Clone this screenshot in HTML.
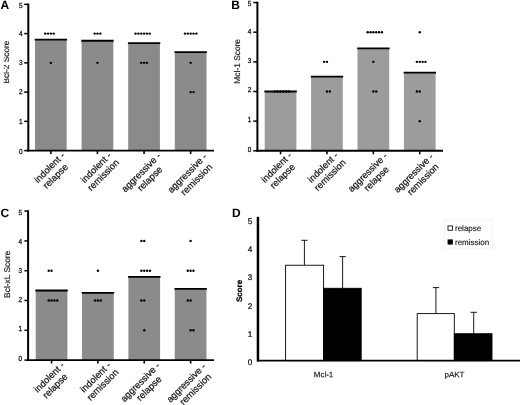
<!DOCTYPE html><html><head><meta charset="utf-8"><title>Figure</title>
<style>html,body{margin:0;padding:0;background:#fff;}svg{display:block;will-change:transform;font-family:"Liberation Sans", sans-serif;}</style></head><body>
<svg width="520" height="405" viewBox="0 0 520 405" text-rendering="geometricPrecision" font-family='"Liberation Sans", sans-serif'>
<defs><clipPath id="clipA"><rect x="3.8" y="0" width="30" height="200"/></clipPath></defs>
<rect width="520" height="405" fill="#fff"/>
<rect x="35.00" y="39.60" width="31.70" height="111.00" fill="#8a8a8a"/>
<rect x="81.60" y="40.77" width="31.70" height="109.83" fill="#8a8a8a"/>
<rect x="128.20" y="43.11" width="31.70" height="107.49" fill="#8a8a8a"/>
<rect x="174.80" y="52.03" width="31.70" height="98.57" fill="#8a8a8a"/>
<circle cx="45.15" cy="33.60" r="1.2" fill="#000"/>
<circle cx="48.00" cy="33.60" r="1.2" fill="#000"/>
<circle cx="50.85" cy="33.60" r="1.2" fill="#000"/>
<circle cx="53.70" cy="33.60" r="1.2" fill="#000"/>
<circle cx="50.85" cy="62.85" r="1.2" fill="#000"/>
<circle cx="94.60" cy="33.60" r="1.2" fill="#000"/>
<circle cx="97.45" cy="33.60" r="1.2" fill="#000"/>
<circle cx="100.30" cy="33.60" r="1.2" fill="#000"/>
<circle cx="97.45" cy="62.85" r="1.2" fill="#000"/>
<circle cx="135.50" cy="33.60" r="1.2" fill="#000"/>
<circle cx="138.35" cy="33.60" r="1.2" fill="#000"/>
<circle cx="141.20" cy="33.60" r="1.2" fill="#000"/>
<circle cx="144.05" cy="33.60" r="1.2" fill="#000"/>
<circle cx="146.90" cy="33.60" r="1.2" fill="#000"/>
<circle cx="149.75" cy="33.60" r="1.2" fill="#000"/>
<circle cx="141.20" cy="62.85" r="1.2" fill="#000"/>
<circle cx="144.05" cy="62.85" r="1.2" fill="#000"/>
<circle cx="146.90" cy="62.85" r="1.2" fill="#000"/>
<circle cx="184.95" cy="33.60" r="1.2" fill="#000"/>
<circle cx="187.80" cy="33.60" r="1.2" fill="#000"/>
<circle cx="190.65" cy="33.60" r="1.2" fill="#000"/>
<circle cx="193.50" cy="33.60" r="1.2" fill="#000"/>
<circle cx="196.35" cy="33.60" r="1.2" fill="#000"/>
<circle cx="190.65" cy="62.85" r="1.2" fill="#000"/>
<circle cx="190.65" cy="92.10" r="1.2" fill="#000"/>
<circle cx="193.50" cy="92.10" r="1.2" fill="#000"/>
<line x1="34.70" y1="39.60" x2="67.10" y2="39.60" stroke="#000" stroke-width="1.8"/>
<line x1="81.30" y1="40.77" x2="113.70" y2="40.77" stroke="#000" stroke-width="1.8"/>
<line x1="127.90" y1="43.11" x2="160.30" y2="43.11" stroke="#000" stroke-width="1.8"/>
<line x1="174.50" y1="52.03" x2="206.90" y2="52.03" stroke="#000" stroke-width="1.8"/>
<line x1="28.3" y1="3.55" x2="28.3" y2="151.50" stroke="#000" stroke-width="2.0"/>
<line x1="27.3" y1="150.60" x2="214" y2="150.60" stroke="#000" stroke-width="1.9"/>
<line x1="24.20" y1="150.60" x2="28.3" y2="150.60" stroke="#000" stroke-width="1.5"/>
<text transform="translate(22.50,153.50) scale(0.88,1)" font-size="7.3" text-anchor="end" fill="#111" stroke="#111" stroke-width="0.28">0</text>
<line x1="24.20" y1="121.35" x2="28.3" y2="121.35" stroke="#000" stroke-width="1.5"/>
<text transform="translate(22.50,123.80) scale(0.88,1)" font-size="7.3" text-anchor="end" fill="#111" stroke="#111" stroke-width="0.28">1</text>
<line x1="24.20" y1="92.10" x2="28.3" y2="92.10" stroke="#000" stroke-width="1.5"/>
<text transform="translate(22.50,94.30) scale(0.88,1)" font-size="7.3" text-anchor="end" fill="#111" stroke="#111" stroke-width="0.28">2</text>
<line x1="24.20" y1="62.85" x2="28.3" y2="62.85" stroke="#000" stroke-width="1.5"/>
<text transform="translate(22.50,64.80) scale(0.88,1)" font-size="7.3" text-anchor="end" fill="#111" stroke="#111" stroke-width="0.28">3</text>
<line x1="24.20" y1="33.60" x2="28.3" y2="33.60" stroke="#000" stroke-width="1.5"/>
<text transform="translate(22.50,36.00) scale(0.88,1)" font-size="7.3" text-anchor="end" fill="#111" stroke="#111" stroke-width="0.28">4</text>
<line x1="24.20" y1="4.35" x2="28.3" y2="4.35" stroke="#000" stroke-width="1.5"/>
<text transform="translate(22.50,7.50) scale(0.88,1)" font-size="7.3" text-anchor="end" fill="#111" stroke="#111" stroke-width="0.28">5</text>
<line x1="50.85" y1="150.60" x2="50.85" y2="154.10" stroke="#000" stroke-width="1.6"/>
<g transform="translate(65.35,156.10) rotate(-45)" font-size="9.4" fill="#111" stroke="#111" stroke-width="0.22" text-anchor="end"><text x="0" y="0">indolent -</text><text x="-21.2" y="10.4" text-anchor="middle">relapse</text></g>
<line x1="97.45" y1="150.60" x2="97.45" y2="154.10" stroke="#000" stroke-width="1.6"/>
<g transform="translate(111.95,156.10) rotate(-45)" font-size="9.4" fill="#111" stroke="#111" stroke-width="0.22" text-anchor="end"><text x="0" y="0">indolent -</text><text x="-19.6" y="10.4" text-anchor="middle">remission</text></g>
<line x1="144.05" y1="150.60" x2="144.05" y2="154.10" stroke="#000" stroke-width="1.6"/>
<g transform="translate(161.35,156.60) rotate(-45)" font-size="9.4" fill="#111" stroke="#111" stroke-width="0.22" text-anchor="end"><text x="0" y="0">aggressive -</text><text x="-23.8" y="10.6" text-anchor="middle">relapse</text></g>
<line x1="190.65" y1="150.60" x2="190.65" y2="154.10" stroke="#000" stroke-width="1.6"/>
<g transform="translate(207.55,157.30) rotate(-45)" font-size="9.4" fill="#111" stroke="#111" stroke-width="0.22" text-anchor="end"><text x="0" y="0">aggressive -</text><text x="-23.5" y="11.0" text-anchor="middle">remission</text></g>
<text x="0.6" y="8.5" font-size="12" font-weight="bold" fill="#000">A</text>
<g clip-path="url(#clipA)"><text transform="translate(8.6,62) rotate(-90)" font-size="8.3" text-anchor="middle" fill="#1a1a1a" stroke="#1a1a1a" stroke-width="0.18">Bcl-2 Score</text></g>
<rect x="264.70" y="91.50" width="31.70" height="59.30" fill="#9c9c9c"/>
<rect x="311.10" y="76.68" width="31.70" height="74.12" fill="#9c9c9c"/>
<rect x="357.50" y="48.30" width="31.70" height="102.50" fill="#9c9c9c"/>
<rect x="403.90" y="72.70" width="31.70" height="78.10" fill="#9c9c9c"/>
<circle cx="274.85" cy="91.50" r="1.2" fill="#000"/>
<circle cx="277.70" cy="91.50" r="1.2" fill="#000"/>
<circle cx="280.55" cy="91.50" r="1.2" fill="#000"/>
<circle cx="283.40" cy="91.50" r="1.2" fill="#000"/>
<circle cx="286.25" cy="91.50" r="1.2" fill="#000"/>
<circle cx="289.10" cy="91.50" r="1.2" fill="#000"/>
<circle cx="324.10" cy="61.85" r="1.2" fill="#000"/>
<circle cx="326.95" cy="61.85" r="1.2" fill="#000"/>
<circle cx="326.95" cy="91.50" r="1.2" fill="#000"/>
<circle cx="329.80" cy="91.50" r="1.2" fill="#000"/>
<circle cx="367.65" cy="32.20" r="1.2" fill="#000"/>
<circle cx="370.50" cy="32.20" r="1.2" fill="#000"/>
<circle cx="373.35" cy="32.20" r="1.2" fill="#000"/>
<circle cx="376.20" cy="32.20" r="1.2" fill="#000"/>
<circle cx="379.05" cy="32.20" r="1.2" fill="#000"/>
<circle cx="381.90" cy="32.20" r="1.2" fill="#000"/>
<circle cx="373.35" cy="61.85" r="1.2" fill="#000"/>
<circle cx="373.35" cy="91.50" r="1.2" fill="#000"/>
<circle cx="376.20" cy="91.50" r="1.2" fill="#000"/>
<circle cx="419.75" cy="32.20" r="1.2" fill="#000"/>
<circle cx="416.90" cy="61.85" r="1.2" fill="#000"/>
<circle cx="419.75" cy="61.85" r="1.2" fill="#000"/>
<circle cx="422.60" cy="61.85" r="1.2" fill="#000"/>
<circle cx="425.45" cy="61.85" r="1.2" fill="#000"/>
<circle cx="416.90" cy="91.50" r="1.2" fill="#000"/>
<circle cx="419.75" cy="91.50" r="1.2" fill="#000"/>
<circle cx="419.75" cy="121.15" r="1.2" fill="#000"/>
<line x1="264.40" y1="91.50" x2="296.80" y2="91.50" stroke="#000" stroke-width="1.8"/>
<line x1="310.80" y1="76.68" x2="343.20" y2="76.68" stroke="#000" stroke-width="1.8"/>
<line x1="357.20" y1="48.30" x2="389.60" y2="48.30" stroke="#000" stroke-width="1.8"/>
<line x1="403.60" y1="72.70" x2="436.00" y2="72.70" stroke="#000" stroke-width="1.8"/>
<line x1="257.4" y1="1.75" x2="257.4" y2="151.70" stroke="#000" stroke-width="2.0"/>
<line x1="256.4" y1="150.80" x2="443" y2="150.80" stroke="#000" stroke-width="1.9"/>
<line x1="253.30" y1="150.80" x2="257.4" y2="150.80" stroke="#000" stroke-width="1.5"/>
<text transform="translate(251.20,152.10) scale(0.88,1)" font-size="7.3" text-anchor="end" fill="#111" stroke="#111" stroke-width="0.28">0</text>
<line x1="253.30" y1="121.15" x2="257.4" y2="121.15" stroke="#000" stroke-width="1.5"/>
<text transform="translate(251.20,121.90) scale(0.88,1)" font-size="7.3" text-anchor="end" fill="#111" stroke="#111" stroke-width="0.28">1</text>
<line x1="253.30" y1="91.50" x2="257.4" y2="91.50" stroke="#000" stroke-width="1.5"/>
<text transform="translate(251.20,92.10) scale(0.88,1)" font-size="7.3" text-anchor="end" fill="#111" stroke="#111" stroke-width="0.28">2</text>
<line x1="253.30" y1="61.85" x2="257.4" y2="61.85" stroke="#000" stroke-width="1.5"/>
<text transform="translate(251.20,62.70) scale(0.88,1)" font-size="7.3" text-anchor="end" fill="#111" stroke="#111" stroke-width="0.28">3</text>
<line x1="253.30" y1="32.20" x2="257.4" y2="32.20" stroke="#000" stroke-width="1.5"/>
<text transform="translate(251.20,33.90) scale(0.88,1)" font-size="7.3" text-anchor="end" fill="#111" stroke="#111" stroke-width="0.28">4</text>
<line x1="253.30" y1="2.55" x2="257.4" y2="2.55" stroke="#000" stroke-width="1.5"/>
<text transform="translate(251.20,5.60) scale(0.88,1)" font-size="7.3" text-anchor="end" fill="#111" stroke="#111" stroke-width="0.28">5</text>
<line x1="280.55" y1="150.80" x2="280.55" y2="154.30" stroke="#000" stroke-width="1.6"/>
<g transform="translate(292.35,156.00) rotate(-45)" font-size="9.4" fill="#111" stroke="#111" stroke-width="0.22" text-anchor="end"><text x="0" y="0">indolent -</text><text x="-21.2" y="10.4" text-anchor="middle">relapse</text></g>
<line x1="326.95" y1="150.80" x2="326.95" y2="154.30" stroke="#000" stroke-width="1.6"/>
<g transform="translate(338.75,156.00) rotate(-45)" font-size="9.4" fill="#111" stroke="#111" stroke-width="0.22" text-anchor="end"><text x="0" y="0">indolent -</text><text x="-19.6" y="10.4" text-anchor="middle">remission</text></g>
<line x1="373.35" y1="150.80" x2="373.35" y2="154.30" stroke="#000" stroke-width="1.6"/>
<g transform="translate(387.95,156.50) rotate(-45)" font-size="9.4" fill="#111" stroke="#111" stroke-width="0.22" text-anchor="end"><text x="0" y="0">aggressive -</text><text x="-23.8" y="10.6" text-anchor="middle">relapse</text></g>
<line x1="419.75" y1="150.80" x2="419.75" y2="154.30" stroke="#000" stroke-width="1.6"/>
<g transform="translate(433.95,157.20) rotate(-45)" font-size="9.4" fill="#111" stroke="#111" stroke-width="0.22" text-anchor="end"><text x="0" y="0">aggressive -</text><text x="-23.5" y="11.0" text-anchor="middle">remission</text></g>
<text x="231.2" y="8.5" font-size="12" font-weight="bold" fill="#000">B</text>
<g><text transform="translate(239.9,61.3) rotate(-90)" font-size="8.4" text-anchor="middle" fill="#1a1a1a" stroke="#1a1a1a" stroke-width="0.18">Mcl-1 Score</text></g>
<rect x="35.70" y="290.52" width="31.70" height="69.58" fill="#8b8b8b"/>
<rect x="82.05" y="292.90" width="31.70" height="67.20" fill="#8b8b8b"/>
<rect x="128.40" y="276.96" width="31.70" height="83.14" fill="#8b8b8b"/>
<rect x="174.75" y="288.94" width="31.70" height="71.16" fill="#8b8b8b"/>
<circle cx="48.70" cy="270.70" r="1.2" fill="#000"/>
<circle cx="51.55" cy="270.70" r="1.2" fill="#000"/>
<circle cx="48.70" cy="300.50" r="1.2" fill="#000"/>
<circle cx="51.55" cy="300.50" r="1.2" fill="#000"/>
<circle cx="54.40" cy="300.50" r="1.2" fill="#000"/>
<circle cx="57.25" cy="300.50" r="1.2" fill="#000"/>
<circle cx="97.90" cy="270.70" r="1.2" fill="#000"/>
<circle cx="95.05" cy="300.50" r="1.2" fill="#000"/>
<circle cx="97.90" cy="300.50" r="1.2" fill="#000"/>
<circle cx="100.75" cy="300.50" r="1.2" fill="#000"/>
<circle cx="141.40" cy="240.90" r="1.2" fill="#000"/>
<circle cx="144.25" cy="240.90" r="1.2" fill="#000"/>
<circle cx="141.40" cy="270.70" r="1.2" fill="#000"/>
<circle cx="144.25" cy="270.70" r="1.2" fill="#000"/>
<circle cx="147.10" cy="270.70" r="1.2" fill="#000"/>
<circle cx="149.95" cy="270.70" r="1.2" fill="#000"/>
<circle cx="141.40" cy="300.50" r="1.2" fill="#000"/>
<circle cx="144.25" cy="300.50" r="1.2" fill="#000"/>
<circle cx="144.25" cy="330.30" r="1.2" fill="#000"/>
<circle cx="190.60" cy="240.90" r="1.2" fill="#000"/>
<circle cx="187.75" cy="270.70" r="1.2" fill="#000"/>
<circle cx="190.60" cy="270.70" r="1.2" fill="#000"/>
<circle cx="193.45" cy="270.70" r="1.2" fill="#000"/>
<circle cx="187.75" cy="300.50" r="1.2" fill="#000"/>
<circle cx="190.60" cy="300.50" r="1.2" fill="#000"/>
<circle cx="190.60" cy="330.30" r="1.2" fill="#000"/>
<circle cx="193.45" cy="330.30" r="1.2" fill="#000"/>
<line x1="35.40" y1="290.52" x2="67.80" y2="290.52" stroke="#000" stroke-width="1.8"/>
<line x1="81.75" y1="292.90" x2="114.15" y2="292.90" stroke="#000" stroke-width="1.8"/>
<line x1="128.10" y1="276.96" x2="160.50" y2="276.96" stroke="#000" stroke-width="1.8"/>
<line x1="174.45" y1="288.94" x2="206.85" y2="288.94" stroke="#000" stroke-width="1.8"/>
<line x1="28.1" y1="210.30" x2="28.1" y2="361.00" stroke="#000" stroke-width="2.0"/>
<line x1="27.1" y1="360.10" x2="214" y2="360.10" stroke="#000" stroke-width="1.9"/>
<line x1="24.40" y1="360.10" x2="28.1" y2="360.10" stroke="#000" stroke-width="1.5"/>
<text transform="translate(22.00,361.30) scale(0.88,1)" font-size="7.3" text-anchor="end" fill="#111" stroke="#111" stroke-width="0.28">0</text>
<line x1="24.40" y1="330.30" x2="28.1" y2="330.30" stroke="#000" stroke-width="1.5"/>
<text transform="translate(22.00,331.30) scale(0.88,1)" font-size="7.3" text-anchor="end" fill="#111" stroke="#111" stroke-width="0.28">1</text>
<line x1="24.40" y1="300.50" x2="28.1" y2="300.50" stroke="#000" stroke-width="1.5"/>
<text transform="translate(22.00,302.10) scale(0.88,1)" font-size="7.3" text-anchor="end" fill="#111" stroke="#111" stroke-width="0.28">2</text>
<line x1="24.40" y1="270.70" x2="28.1" y2="270.70" stroke="#000" stroke-width="1.5"/>
<text transform="translate(22.00,273.20) scale(0.88,1)" font-size="7.3" text-anchor="end" fill="#111" stroke="#111" stroke-width="0.28">3</text>
<line x1="24.40" y1="240.90" x2="28.1" y2="240.90" stroke="#000" stroke-width="1.5"/>
<text transform="translate(22.00,244.10) scale(0.88,1)" font-size="7.3" text-anchor="end" fill="#111" stroke="#111" stroke-width="0.28">4</text>
<line x1="24.40" y1="211.10" x2="28.1" y2="211.10" stroke="#000" stroke-width="1.5"/>
<text transform="translate(22.00,215.20) scale(0.88,1)" font-size="7.3" text-anchor="end" fill="#111" stroke="#111" stroke-width="0.28">5</text>
<line x1="51.55" y1="360.10" x2="51.55" y2="363.60" stroke="#000" stroke-width="1.6"/>
<g transform="translate(65.05,365.80) rotate(-45)" font-size="9.4" fill="#111" stroke="#111" stroke-width="0.22" text-anchor="end"><text x="0" y="0">indolent -</text><text x="-21.2" y="10.4" text-anchor="middle">relapse</text></g>
<line x1="97.90" y1="360.10" x2="97.90" y2="363.60" stroke="#000" stroke-width="1.6"/>
<g transform="translate(111.40,365.80) rotate(-45)" font-size="9.4" fill="#111" stroke="#111" stroke-width="0.22" text-anchor="end"><text x="0" y="0">indolent -</text><text x="-19.6" y="10.4" text-anchor="middle">remission</text></g>
<line x1="144.25" y1="360.10" x2="144.25" y2="363.60" stroke="#000" stroke-width="1.6"/>
<g transform="translate(160.55,366.30) rotate(-45)" font-size="9.4" fill="#111" stroke="#111" stroke-width="0.22" text-anchor="end"><text x="0" y="0">aggressive -</text><text x="-23.8" y="10.6" text-anchor="middle">relapse</text></g>
<line x1="190.60" y1="360.10" x2="190.60" y2="363.60" stroke="#000" stroke-width="1.6"/>
<g transform="translate(206.50,367.00) rotate(-45)" font-size="9.4" fill="#111" stroke="#111" stroke-width="0.22" text-anchor="end"><text x="0" y="0">aggressive -</text><text x="-23.5" y="11.0" text-anchor="middle">remission</text></g>
<text x="0.4" y="216.9" font-size="12" font-weight="bold" fill="#000">C</text>
<g><text transform="translate(9.9,274.3) rotate(-90)" font-size="8.4" text-anchor="middle" fill="#1a1a1a" stroke="#1a1a1a" stroke-width="0.18">Bcl-xL Score</text></g>
<text x="232.0" y="216.7" font-size="12" font-weight="bold" fill="#000">D</text>
<text transform="translate(242.3,291) rotate(-90)" font-size="8" font-weight="bold" text-anchor="middle" fill="#0a0a0a" stroke="#0a0a0a" stroke-width="0.25">Score</text>
<text x="252.4" y="365.25" font-size="8.2" text-anchor="end" fill="#0a0a0a" stroke="#0a0a0a" stroke-width="0.22">0</text>
<text x="252.4" y="336.90" font-size="8.2" text-anchor="end" fill="#0a0a0a" stroke="#0a0a0a" stroke-width="0.22">1</text>
<text x="252.4" y="308.55" font-size="8.2" text-anchor="end" fill="#0a0a0a" stroke="#0a0a0a" stroke-width="0.22">2</text>
<text x="252.4" y="280.20" font-size="8.2" text-anchor="end" fill="#0a0a0a" stroke="#0a0a0a" stroke-width="0.22">3</text>
<text x="252.4" y="251.85" font-size="8.2" text-anchor="end" fill="#0a0a0a" stroke="#0a0a0a" stroke-width="0.22">4</text>
<text x="252.4" y="223.50" font-size="8.2" text-anchor="end" fill="#0a0a0a" stroke="#0a0a0a" stroke-width="0.22">5</text>
<line x1="304.4" y1="240.3" x2="304.4" y2="265.23" stroke="#000" stroke-width="0.9"/>
<line x1="301.29999999999995" y1="240.3" x2="307.59999999999997" y2="240.3" stroke="#000" stroke-width="0.9"/>
<rect x="285.6" y="265.23" width="38.00" height="95.37" fill="#fff" stroke="#000" stroke-width="0.9"/>
<line x1="342.6" y1="256.6" x2="342.6" y2="288.29" stroke="#000" stroke-width="0.9"/>
<line x1="339.5" y1="256.6" x2="345.8" y2="256.6" stroke="#000" stroke-width="0.9"/>
<rect x="323.6" y="288.29" width="37.60" height="72.31" fill="#000" stroke="#000" stroke-width="0.9"/>
<line x1="435.9" y1="287.6" x2="435.9" y2="313.62" stroke="#000" stroke-width="0.9"/>
<line x1="432.79999999999995" y1="287.6" x2="439.09999999999997" y2="287.6" stroke="#000" stroke-width="0.9"/>
<rect x="417.2" y="313.62" width="37.10" height="46.98" fill="#fff" stroke="#000" stroke-width="0.9"/>
<line x1="473.7" y1="312.3" x2="473.7" y2="333.72" stroke="#000" stroke-width="0.9"/>
<line x1="470.59999999999997" y1="312.3" x2="476.9" y2="312.3" stroke="#000" stroke-width="0.9"/>
<rect x="454.3" y="333.72" width="37.70" height="26.88" fill="#000" stroke="#000" stroke-width="0.9"/>
<line x1="257.95" y1="216.8" x2="257.95" y2="361.40" stroke="#000" stroke-width="2.5"/>
<line x1="257" y1="360.60" x2="520" y2="360.60" stroke="#000" stroke-width="1.6"/>
<text transform="translate(323.5,377.2) rotate(0.03)" font-size="8" text-anchor="middle" fill="#111" stroke="#111" stroke-width="0.15">Mcl-1</text>
<text transform="translate(454.5,377.2) rotate(0.03)" font-size="8" text-anchor="middle" fill="#111" stroke="#111" stroke-width="0.15">pAKT</text>
<rect x="444.5" y="220" width="48.2" height="28.2" fill="#fff" stroke="#f0f0f0" stroke-width="0.8"/>
<rect x="448" y="225.9" width="4.4" height="4.4" fill="#fff" stroke="#111" stroke-width="0.9"/>
<rect x="447.6" y="239.4" width="5.2" height="5.2" fill="#000"/>
<text x="455" y="231" font-size="8" fill="#1a1a1a" stroke="#1a1a1a" stroke-width="0.15">relapse</text>
<text x="455" y="244.8" font-size="8" fill="#1a1a1a" stroke="#1a1a1a" stroke-width="0.15">remission</text>
</svg></body></html>
